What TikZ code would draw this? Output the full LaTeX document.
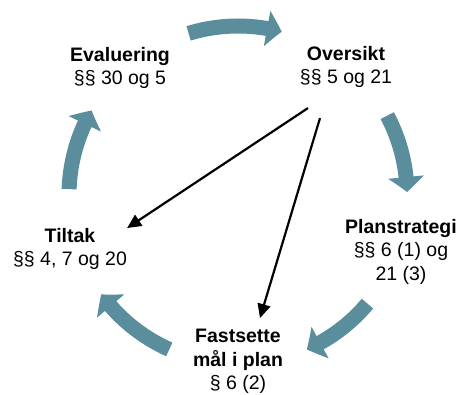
\documentclass[tikz,border=0pt]{standalone}
\usepackage{fontspec}
\setmainfont{Liberation Sans}
\usepackage{xcolor}
\usetikzlibrary{calc, arrows.meta, bending}

\definecolor{cyclecol}{RGB}{90,142,156}

\begin{document}
\begin{tikzpicture}[x = 1pt, y = 1pt,
		lawtext/.style = {align = center, inner sep = 0pt, anchor = north, font = \fontsize{19.5}{23.5}\selectfont},
		cyclearrow/.style = {draw = cyclecol, line width = 15pt, -{Triangle[length = 15pt, width = 35pt, bend]}},
		linkarrow/.style = {line width = 2.2pt, -{Triangle[length = 14pt, width = 13pt]}}]
		\def\rad{169};
		\useasboundingbox (0,0) rectangle (463,394);
		\coordinate (c) at (238,199);
		
		\foreach \s/\e in {107/75, 28/1, -40/-66, -114/-144, 178/150}
			\draw [cyclearrow] ($(c)+(\s:\rad)$) arc [start angle = \s, end angle = \e, radius = \rad];
		
		\node [lawtext] (evaluering) at (120,347) {\textbf{Evaluering}\\§§ 30 og 5};
		\node [lawtext] (oversikt) at (346,348) {\textbf{Oversikt}\\§§ 5 og 21};
		\node [lawtext] (planstrategi) at (401,175) {\textbf{Planstrategi}\\§§ 6 (1) og\\21 (3)};
		\node [lawtext] (tiltak) at (70,166) {\textbf{Tiltak}\\§§ 4, 7 og 20};
		\node [lawtext] (fastsette) at (238,65) {\textbf{Fastsette}\\\textbf{mål i plan}\\§ 6 (2)};
		
		\draw [linkarrow] ([shift = {(-38,-20)}]oversikt.south) -- (tiltak.north east);
		\draw [linkarrow] ([shift = {(-26,-30)}]oversikt.south) -- ([shift = {(22,11)}]fastsette.north);
	\end{tikzpicture}
\end{document}
